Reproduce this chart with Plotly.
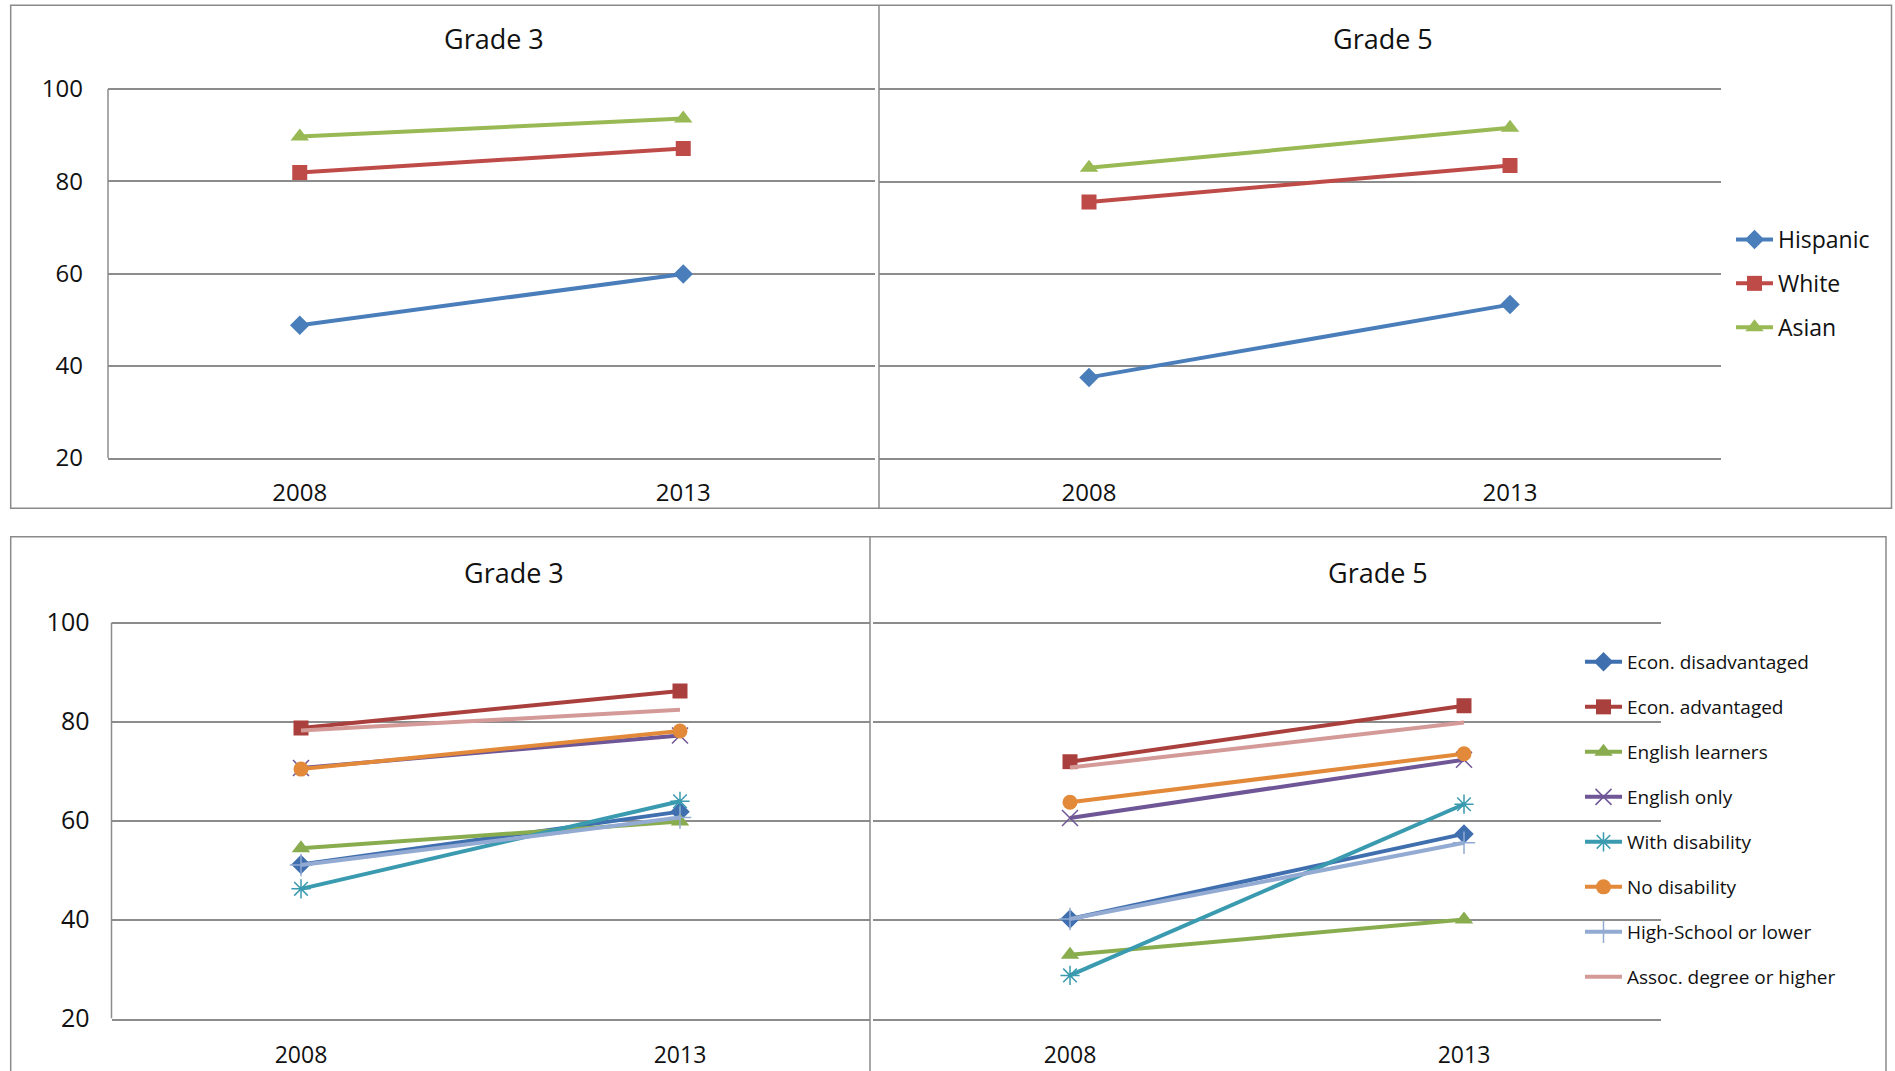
import plotly.graph_objects as go

W, H = 1895, 1071

years = ["2008", "2013"]

# Top row: ethnic groups, grade 3 and grade 5
ethnic_groups = ["Hispanic", "White", "Asian"]
hispanic_g3 = [48.8, 59.9]
white_g3 = [81.9, 87.1]
asian_g3 = [89.7, 93.6]
hispanic_g5 = [37.5, 53.3]
white_g5 = [75.6, 83.5]
asian_g5 = [83.0, 91.7]
ethnic_colors = ["#4A7EBB", "#BE4B48", "#98B954"]
ethnic_symbols = ["diamond", "square", "triangle-up"]
ethnic_sizes = [15, 15, 16]

# Bottom row: other student subgroups
subgroups = ["Econ. disadvantaged", "Econ. advantaged", "English learners", "English only",
             "With disability", "No disability", "High-School or lower", "Assoc. degree or higher"]
sub_g3_2008 = [51.1, 78.7, 54.4, 70.6, 46.2, 70.4, 51.0, 78.2]
sub_g3_2013 = [61.8, 86.2, 59.8, 77.2, 63.9, 78.1, 60.6, 82.4]
sub_g5_2008 = [40.1, 71.9, 32.9, 60.5, 28.7, 63.7, 40.1, 70.7]
sub_g5_2013 = [57.3, 83.2, 40.0, 72.3, 63.3, 73.5, 55.5, 79.8]
sub_colors = ["#3F6FAE", "#AA403D", "#89AD4E", "#6F5696", "#3A9AAF", "#E38A3A", "#93AAD2", "#D49A98"]
sub_symbols = ["diamond", "square", "triangle-up", "x-thin-open", "asterisk-open", "circle",
               "cross-thin-open", None]

FONT = "Open Sans, Liberation Sans, sans-serif"
GRID = "#8C8C8C"
Y_LO, Y_HI = 20, 100
Y_TOP = 100.6  # a little headroom so the 100 gridline is drawn


def px_x(x):
    return x / W


def px_y(y):
    return 1 - y / H


fig = go.Figure()

# plot boxes: x pixel span and pixel rows of the 100 and 20 gridlines
boxes = {
    1: (108, 875, 89, 458),
    2: (878.5, 1720.5, 89.5, 458),
    3: (111.5, 869.5, 622.6, 1018.5),
    4: (873, 1661, 622.6, 1018.5),
}

layout_axes = {}
for i, (x0, x1, y100, y20) in boxes.items():
    xs = "xaxis" if i == 1 else f"xaxis{i}"
    ys = "yaxis" if i == 1 else f"yaxis{i}"
    left = i in (1, 3)
    per_unit = (y20 - y100) / (Y_HI - Y_LO)
    y_top_px = y100 - (Y_TOP - Y_HI) * per_unit
    layout_axes[xs] = dict(
        domain=[px_x(x0), px_x(x1)], anchor="y" if i == 1 else f"y{i}",
        type="category", range=[-0.5, 1.5], showgrid=False, zeroline=False,
        showline=True, linecolor=GRID, linewidth=1.5, ticks="", automargin=False,
        tickfont=dict(family=FONT, size=24 if i <= 2 else 23, color="#111"),
        ticklabelstandoff=12 if i <= 2 else 15, fixedrange=True,
    )
    layout_axes[ys] = dict(
        domain=[px_y(y20), px_y(y_top_px)], anchor="x" if i == 1 else f"x{i}",
        range=[Y_LO, Y_TOP], tick0=20, dtick=20, showgrid=True, gridcolor=GRID,
        gridwidth=1.5, zeroline=False, showline=False, automargin=False,
        ticks="", showticklabels=left,
        tickfont=dict(family=FONT, size=24 if i <= 2 else 25, color="#111"),
        ticklabelstandoff=24 if i == 1 else 21, fixedrange=True,
    )

# Top row traces
top_series = [hispanic_g3, white_g3, asian_g3]
top_series5 = [hispanic_g5, white_g5, asian_g5]
for k, name in enumerate(ethnic_groups):
    for vals, xa, ya, show in ((top_series[k], "x", "y", False), (top_series5[k], "x2", "y2", True)):
        fig.add_trace(go.Scatter(
            x=years, y=vals, name=name, xaxis=xa, yaxis=ya, mode="lines+markers",
            line=dict(color=ethnic_colors[k], width=4),
            marker=dict(symbol=ethnic_symbols[k], size=ethnic_sizes[k], color=ethnic_colors[k]),
            legend="legend", legendgroup=name, showlegend=show,
        ))

# Bottom row traces
for k, name in enumerate(subgroups):
    sym = sub_symbols[k]
    col = sub_colors[k]
    for vals, xa, ya, show in (([sub_g3_2008[k], sub_g3_2013[k]], "x3", "y3", False),
                               ([sub_g5_2008[k], sub_g5_2013[k]], "x4", "y4", True)):
        if sym is None:
            mode = "lines"
            marker = dict(color=col)
        elif sym.endswith("-open"):
            mode = "lines+markers"
            marker = dict(symbol=sym, size=16, color=col, line=dict(color=col, width=1.5))
        else:
            mode = "lines+markers"
            marker = dict(symbol=sym, size=16 if sym == "triangle-up" else 15, color=col)
        fig.add_trace(go.Scatter(
            x=years, y=vals, name=name, xaxis=xa, yaxis=ya, mode=mode,
            line=dict(color=col, width=4), marker=marker,
            legend="legend2", legendgroup="b_" + name, showlegend=show,
        ))

# chart titles
titles = [("Grade 3", 494, 39), ("Grade 5", 1383, 39), ("Grade 3", 514, 572), ("Grade 5", 1378, 572)]
annotations = [
    dict(text=t, x=px_x(x), y=px_y(y), xref="paper", yref="paper", showarrow=False,
         xanchor="center", yanchor="middle", font=dict(family=FONT, size=27, color="#111"))
    for t, x, y in titles
]

# chart-area frames, dividers and the y-axis lines of the left charts
frame = dict(color="#8A8A8A", width=1.5)
shapes = [
    dict(type="rect", xref="paper", yref="paper", x0=px_x(10.7), x1=px_x(1891.5),
         y0=px_y(508.3), y1=px_y(5.3), line=frame),
    dict(type="line", xref="paper", yref="paper", x0=px_x(879), x1=px_x(879),
         y0=px_y(508.3), y1=px_y(5.3), line=frame),
    dict(type="rect", xref="paper", yref="paper", x0=px_x(10.7), x1=px_x(1886),
         y0=px_y(1090), y1=px_y(536.7), line=frame),
    dict(type="line", xref="paper", yref="paper", x0=px_x(870), x1=px_x(870),
         y0=px_y(1090), y1=px_y(536.7), line=frame),
]
for xa, ya in (("x", "y"), ("x3", "y3")):
    shapes.append(dict(type="line", xref=f"{xa} domain", yref=ya, x0=0, x1=0,
                       y0=Y_LO, y1=Y_HI, line=dict(color=GRID, width=1.5)))

fig.update_layout(
    width=W, height=H, margin=dict(l=0, r=0, t=0, b=0, autoexpand=False),
    paper_bgcolor="white", plot_bgcolor="white",
    annotations=annotations, shapes=shapes,
    legend=dict(x=px_x(1731), y=px_y(218), xanchor="left", yanchor="top", itemwidth=37,
                font=dict(family=FONT, size=23, color="#111"), tracegroupgap=11,
                bgcolor="rgba(0,0,0,0)", itemclick=False, itemdoubleclick=False),
    legend2=dict(x=px_x(1580), y=px_y(643), xanchor="left", yanchor="top", itemwidth=37,
                 font=dict(family=FONT, size=19, color="#111"), tracegroupgap=17.3,
                 bgcolor="rgba(0,0,0,0)", itemclick=False, itemdoubleclick=False),
    **layout_axes,
)

fig.write_html("out.html")
